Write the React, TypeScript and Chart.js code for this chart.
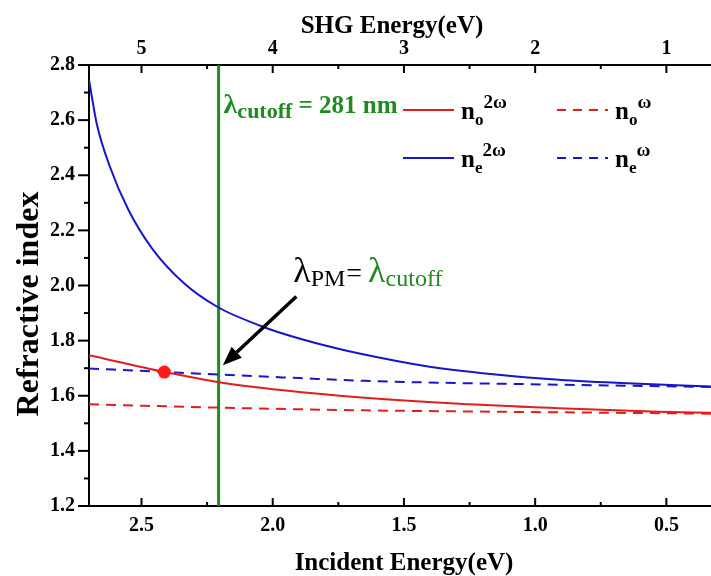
import React, { useEffect, useRef } from "react";
import { Chart, registerables } from "chart.js";

Chart.register(...registerables);

// Axis ranges and ticks (incident photon energy runs right-to-left)
const incidentRange = [0.33, 2.7];
const indexRange = [1.2, 2.8];
const incidentTicks = [0.5, 1.0, 1.5, 2.0, 2.5];
const incidentMinorTicks = [0.75, 1.25, 1.75, 2.25];
const shgTicks = [1, 2, 3, 4, 5];
const shgMinorTicks = [1.5, 2.5, 3.5, 4.5];
const indexTicks = [1.2, 1.4, 1.6, 1.8, 2.0, 2.2, 2.4, 2.6, 2.8];
const indexMinorTicks = [1.3, 1.5, 1.7, 1.9, 2.1, 2.3, 2.5, 2.7];

// n_e at the second-harmonic frequency
const ne2wEnergy = [2.70, 2.67, 2.62, 2.55, 2.46, 2.34, 2.21, 2.05, 1.95, 1.80, 1.67, 1.42, 1.16, 0.91, 0.65, 0.33];
const ne2wIndex = [2.746, 2.585, 2.43, 2.275, 2.135, 2.01, 1.922, 1.855, 1.822, 1.782, 1.753, 1.708, 1.678, 1.658, 1.645, 1.634];

// n_e at the fundamental frequency
const neWEnergy = [2.70, 2.45, 2.21, 1.90, 1.65, 1.35, 1.03, 0.70, 0.33];
const neWIndex = [1.699, 1.688, 1.677, 1.664, 1.654, 1.647, 1.642, 1.637, 1.632];

// n_o at the second-harmonic frequency
const no2wEnergy = [2.70, 2.41, 2.21, 1.96, 1.65, 1.29, 0.91, 0.53, 0.33];
const no2wIndex = [1.747, 1.686, 1.650, 1.620, 1.593, 1.571, 1.555, 1.542, 1.538];

// n_o at the fundamental frequency
const noWEnergy = [2.70, 2.21, 1.65, 1.03, 0.33];
const noWIndex = [1.569, 1.557, 1.547, 1.541, 1.535];

// Absorption cut-off and the phase-matching crossing
const cutoffWavelengthNm = 281;
const cutoffEnergy = 1239.84 / cutoffWavelengthNm / 2;
const phaseMatchEnergy = [2.413];
const phaseMatchIndex = [1.686];

// Annotation anchors in data coordinates
const arrowTail = [1.91, 1.96];
const arrowHead = [2.19, 1.711];
const cutoffLabelAt = [cutoffEnergy, 2.626];
const pmLabelAt = [1.922, 2.012];

const RED = "#e31c1c";
const BLUE = "#1616c8";
const GREEN = "#1f8a1f";
const SERIF = "'Liberation Serif', 'Times New Roman', serif";

type Run = { t: string; size: number; weight?: string; color?: string; dy?: number; dx?: number };

function drawRuns(ctx: CanvasRenderingContext2D, x: number, y: number, runs: Run[]) {
  let cx = x;
  for (const r of runs) {
    cx += r.dx ?? 0;
    ctx.font = `${r.weight ?? "normal"} ${r.size}px ${SERIF}`;
    ctx.fillStyle = r.color ?? "#000";
    ctx.fillText(r.t, cx, y + (r.dy ?? 0));
    cx += ctx.measureText(r.t).width;
  }
  return cx;
}

const pts = (xs: number[], ys: number[]) => xs.map((x, i) => ({ x, y: ys[i] }));

const overlayPlugin = {
  id: "overlay",
  afterDatasetsDraw(chart: any) {
    const { ctx, chartArea: ca, scales } = chart;
    const sx = scales.x;
    const sx2 = scales.x2;
    const sy = scales.y;
    ctx.save();

    // tick marks
    ctx.strokeStyle = "#000";
    ctx.lineWidth = 2;
    const seg = (x0: number, y0: number, x1: number, y1: number) => {
      ctx.beginPath();
      ctx.moveTo(x0, y0);
      ctx.lineTo(x1, y1);
      ctx.stroke();
    };
    incidentTicks.forEach((v) => { const p = sx.getPixelForValue(v); seg(p, ca.bottom, p, ca.bottom - 8); });
    incidentMinorTicks.forEach((v) => { const p = sx.getPixelForValue(v); seg(p, ca.bottom, p, ca.bottom - 4); });
    shgTicks.forEach((v) => { const p = sx2.getPixelForValue(v); seg(p, ca.top, p, ca.top + 8); });
    shgMinorTicks.forEach((v) => { const p = sx2.getPixelForValue(v); seg(p, ca.top, p, ca.top + 4); });
    indexTicks.forEach((v) => { const p = sy.getPixelForValue(v); seg(ca.left, p, ca.left - 11, p); });
    indexMinorTicks.forEach((v) => { const p = sy.getPixelForValue(v); seg(ca.left, p, ca.left - 5, p); });

    // axis titles
    ctx.textBaseline = "alphabetic";
    ctx.fillStyle = "#000";
    ctx.font = `bold 25px ${SERIF}`;
    ctx.textAlign = "center";
    ctx.fillText("SHG Energy(eV)", (ca.left + ca.right) / 2 - 8, 33);
    ctx.fillText("Incident Energy(eV)", (ca.left + ca.right) / 2 + 4, 570);
    ctx.save();
    ctx.translate(38, 304);
    ctx.rotate(-Math.PI / 2);
    ctx.font = `bold 32px ${SERIF}`;
    ctx.fillText("Refractive index", 0, 0);
    ctx.restore();
    ctx.textAlign = "left";

    // cut-off label next to the vertical line
    const cx = sx.getPixelForValue(cutoffLabelAt[0]) + 5;
    const cy = sy.getPixelForValue(cutoffLabelAt[1]);
    drawRuns(ctx, cx, cy, [
      { t: "\u03bb", size: 28, weight: "bold", color: GREEN },
      { t: "cutoff", size: 22, weight: "bold", color: GREEN, dy: 5 },
      { t: ` = ${cutoffWavelengthNm} nm`, size: 25, weight: "bold", color: GREEN },
    ]);

    // legend
    const rows = [
      { y: ca.top + 45, items: [
        { color: RED, dash: [] as number[], sub: "o", sup: "2\u03c9" },
        { color: RED, dash: [9, 7], sub: "o", sup: "\u03c9" },
      ] },
      { y: ca.top + 93, items: [
        { color: BLUE, dash: [] as number[], sub: "e", sup: "2\u03c9" },
        { color: BLUE, dash: [9, 7], sub: "e", sup: "\u03c9" },
      ] },
    ];
    const cols = [ca.left + 314, ca.left + 468];
    rows.forEach((row) => {
      row.items.forEach((it, i) => {
        const x0 = cols[i];
        ctx.strokeStyle = it.color;
        ctx.lineWidth = 2;
        ctx.setLineDash(it.dash);
        seg(x0, row.y, x0 + 51, row.y);
        ctx.setLineDash([]);
        drawRuns(ctx, x0 + 58, row.y + 9, [
          { t: "n", size: 25, weight: "bold" },
          { t: it.sub, size: 17, weight: "bold", dy: 6 },
          { t: it.sup, size: 19, weight: "bold", dy: -11 },
        ]);
      });
    });

    // arrow pointing at the phase-matching condition on the cut-off
    const ax0 = sx.getPixelForValue(arrowTail[0]);
    const ay0 = sy.getPixelForValue(arrowTail[1]);
    const ax1 = sx.getPixelForValue(arrowHead[0]);
    const ay1 = sy.getPixelForValue(arrowHead[1]);
    const ang = Math.atan2(ay1 - ay0, ax1 - ax0);
    const headLen = 19;
    const headHalf = 7.5;
    const bx = ax1 - headLen * Math.cos(ang);
    const by = ay1 - headLen * Math.sin(ang);
    ctx.strokeStyle = "#000";
    ctx.lineWidth = 3.5;
    seg(ax0, ay0, bx, by);
    ctx.fillStyle = "#000";
    ctx.beginPath();
    ctx.moveTo(ax1, ay1);
    ctx.lineTo(bx + headHalf * Math.sin(ang), by - headHalf * Math.cos(ang));
    ctx.lineTo(bx - headHalf * Math.sin(ang), by + headHalf * Math.cos(ang));
    ctx.closePath();
    ctx.fill();

    // λPM = λcutoff
    const px = sx.getPixelForValue(pmLabelAt[0]);
    const py = sy.getPixelForValue(pmLabelAt[1]);
    drawRuns(ctx, px, py, [
      { t: "\u03bb", size: 36 },
      { t: "PM", size: 24, dy: 4 },
      { t: "=", size: 28, dx: 1 },
      { t: "\u03bb", size: 36, color: GREEN, dx: 6 },
      { t: "cutoff", size: 24, color: GREEN, dy: 4 },
    ]);

    ctx.restore();
  },
};

export default function App() {
  const ref = useRef<HTMLCanvasElement>(null);

  useEffect(() => {
    if (!ref.current) return;
    const tickFont = { family: SERIF, size: 20, weight: "bold" as const };
    const noSidePadding = (s: any) => { s.paddingLeft = 0; s.paddingRight = 0; };
    const chart = new Chart(ref.current, {
      type: "line",
      data: {
        datasets: [
          {
            type: "scatter",
            data: pts(phaseMatchEnergy, phaseMatchIndex),
            pointRadius: 6.5,
            backgroundColor: "#ff1a1a",
            borderWidth: 0,
            showLine: false,
          } as any,
          { data: pts(no2wEnergy, no2wIndex), borderColor: RED, borderWidth: 2 },
          { data: pts(ne2wEnergy, ne2wIndex), borderColor: BLUE, borderWidth: 2 },
          { data: pts(neWEnergy, neWIndex), borderColor: BLUE, borderWidth: 2, borderDash: [10, 7] },
          { data: pts(noWEnergy, noWIndex), borderColor: RED, borderWidth: 2, borderDash: [10, 7] },
          {
            data: pts([cutoffEnergy, cutoffEnergy], [indexRange[0], indexRange[1]]),
            borderColor: GREEN,
            borderWidth: 3,
            cubicInterpolationMode: "default",
            tension: 0,
          } as any,
        ],
      },
      options: {
        animation: false,
        responsive: false,
        events: [],
        layout: { padding: 0, autoPadding: false },
        elements: {
          point: { radius: 0 },
          line: { cubicInterpolationMode: "monotone", fill: false },
        },
        plugins: { legend: { display: false }, tooltip: { enabled: false }, title: { display: false } },
        scales: {
          x: {
            type: "linear",
            position: "bottom",
            min: incidentRange[0],
            max: incidentRange[1],
            reverse: true,
            afterBuildTicks: (s: any) => { s.ticks = incidentTicks.map((value) => ({ value })); },
            afterFit: (s: any) => { s.height = 70; noSidePadding(s); },
            grid: { display: false, drawTicks: false },
            border: { display: true, color: "#000", width: 2 },
            ticks: { color: "#000", font: tickFont, padding: 8, maxRotation: 0, autoSkip: false, callback: (v: any) => Number(v).toFixed(1) },
          },
          x2: {
            type: "linear",
            position: "top",
            min: incidentRange[0] * 2,
            max: incidentRange[1] * 2,
            reverse: true,
            afterBuildTicks: (s: any) => { s.ticks = shgTicks.map((value) => ({ value })); },
            afterFit: (s: any) => { s.height = 65; noSidePadding(s); },
            grid: { display: false, drawTicks: false },
            border: { display: true, color: "#000", width: 2 },
            ticks: { color: "#000", font: tickFont, padding: 4, maxRotation: 0, autoSkip: false, callback: (v: any) => String(v) },
          },
          y: {
            type: "linear",
            position: "left",
            min: indexRange[0],
            max: indexRange[1],
            afterBuildTicks: (s: any) => { s.ticks = indexTicks.map((value) => ({ value })); },
            afterFit: (s: any) => { s.width = 89; s.paddingTop = 0; s.paddingBottom = 0; },
            grid: { display: false, drawTicks: false },
            border: { display: true, color: "#000", width: 2 },
            ticks: { color: "#000", font: tickFont, padding: 14, autoSkip: false, callback: (v: any) => Number(v).toFixed(1) },
          },
        },
      } as any,
      plugins: [overlayPlugin],
    });
    return () => chart.destroy();
  }, []);

  return (
    <div style={{ position: "absolute", left: 0, top: 0, width: 711, height: 576, background: "#fff" }}>
      <canvas ref={ref} width={711} height={576} style={{ display: "block" }} />
    </div>
  );
}
